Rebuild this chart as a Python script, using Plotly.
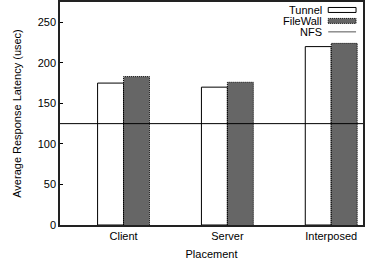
import plotly.graph_objects as go

categories = ["Client", "Server", "Interposed"]
tunnel = [175, 170, 220]
filewall = [183, 176, 224]
nfs = 125
yticks = [0, 50, 100, 150, 200, 250]

pos = [1, 2, 3]
w = 0.25
FONT = "Liberation Sans, Arial, Helvetica, sans-serif"

fig = go.Figure()
fig.add_trace(go.Bar(x=[p - w / 2 for p in pos], y=tunnel, width=w, name="Tunnel",
                     marker=dict(color="white", line=dict(color="black", width=1))))
fig.add_trace(go.Bar(x=[p + w / 2 for p in pos], y=filewall, width=w, name="FileWall",
                     marker=dict(color="#666666", line=dict(color="#666666", width=0))))
# dotted outlines for FileWall bars
for p, v in zip(pos, filewall):
    x0, x1 = p, p + w
    fig.add_trace(go.Scatter(x=[x0, x0, x1, x1], y=[0, v, v, 0], mode="lines",
                             line=dict(color="black", width=1, dash="1px,1px"),
                             showlegend=False, hoverinfo="skip"))
fig.add_trace(go.Scatter(x=[0.3, 3.5], y=[nfs, nfs], mode="lines",
                         line=dict(color="black", width=1), name="NFS"))

# gnuplot-style legend (text left of sample)
leg_rows = [("Tunnel", 9), ("FileWall", 20), ("NFS", 31)]
for i, (txt, yp) in enumerate(leg_rows):
    y_p = 1 - (yp - 1) / 224
    fig.add_annotation(xref="paper", yref="paper", x=(326 - 60) / 305, y=y_p,
                       text=txt, showarrow=False, xanchor="right", yanchor="middle",
                       font=dict(family=FONT, size=11, color="black"))
    x0, x1 = (330 - 60) / 305, (358 - 60) / 305
    if i == 0:
        fig.add_shape(type="rect", xref="paper", yref="paper", x0=x0, x1=x1,
                      y0=y_p - 2.5 / 224, y1=y_p + 2.5 / 224,
                      line=dict(color="black", width=1), fillcolor="white")
    elif i == 1:
        fig.add_shape(type="rect", xref="paper", yref="paper", x0=x0, x1=x1,
                      y0=y_p - 2.5 / 224, y1=y_p + 2.5 / 224,
                      line=dict(color="black", width=1, dash="1px,1px"), fillcolor="#666666")
    else:
        fig.add_shape(type="line", xref="paper", yref="paper", x0=x0, x1=x1,
                      y0=y_p, y1=y_p, line=dict(color="#555555", width=1))

fig.update_layout(
    width=365, height=263,
    margin=dict(l=60, r=0, t=1, b=38),
    paper_bgcolor="white", plot_bgcolor="white",
    showlegend=False, barmode="overlay",
    font=dict(family=FONT, size=11, color="black"),
    xaxis=dict(range=[0.388, 3.306], tickvals=pos, ticktext=categories, showgrid=False,
               zeroline=False, showline=True, linecolor="#222222", linewidth=1.5, mirror=True,
               ticks="", title=dict(text="Placement", standoff=9,
                                    font=dict(family=FONT, size=11))),
    yaxis=dict(range=[0, 275], tickvals=yticks, showgrid=False, zeroline=False,
               showline=True, linecolor="#222222", linewidth=1.5, mirror=True,
               ticks="inside", ticklen=3, tickcolor="black",
               title=dict(text="Average Response Latency (usec)", standoff=14,
                          font=dict(family=FONT, size=11))),
)

fig.write_html("out.html", config={"displayModeBar": False},
               post_script="document.body.style.margin='0';document.body.style.overflow='hidden';")
